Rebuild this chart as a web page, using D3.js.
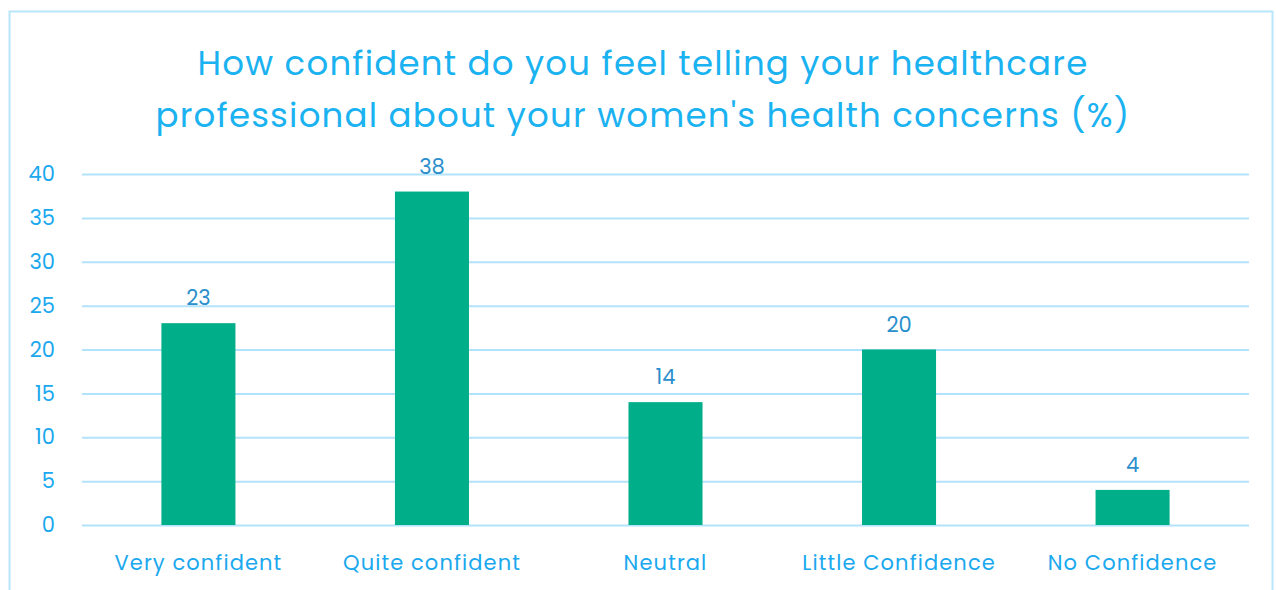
<!DOCTYPE html>
<html><head><meta charset="utf-8">
<script src="https://cdn.jsdelivr.net/npm/d3@7"></script>
<style>html,body{margin:0;padding:0;background:#fff;overflow:hidden}</style>
</head><body>
<script>
const categories = ["Very confident","Quite confident","Neutral","Little Confidence","No Confidence"];
const values = [23,38,14,20,4];
const yTicks = [0,5,10,15,20,25,30,35,40];
const titleLines = ["How confident do you feel telling your healthcare","professional about your women's health concerns (%)"];

(function(){
const W=1276,H=590;
const svg=d3.select("body").append("svg").attr("width",W).attr("height",H);
svg.append("rect").attr("x",9.5).attr("y",11.5).attr("width",1263).attr("height",590).attr("fill","#fff").attr("stroke","#b8e6fb").attr("stroke-width",2);

const font="Poppins, 'Open Sans', Lato, sans-serif";
const pL=82,pR=1249,pT=174,pB=525;
const x=d3.scaleBand().domain(categories).range([pL,pR]).paddingInner(0.683).paddingOuter(0.34);
const y=d3.scaleLinear().domain([0,40]).range([pB,pT]);

svg.selectAll("text.title").data(titleLines).join("text").attr("class","title")
  .attr("x",643).attr("y",(d,i)=>75+i*52).attr("text-anchor","middle")
  .attr("font-family",font).attr("font-size",34).attr("letter-spacing",1.2).attr("fill","#1ab2f0").text(d=>d);

const ya=svg.append("g").attr("transform",`translate(${pL},0)`)
  .call(d3.axisLeft(y).tickValues(yTicks).tickSize(-(pR-pL)).tickPadding(27));
ya.select(".domain").remove();
ya.selectAll(".tick line").attr("stroke","#b3e3fb").attr("stroke-width",2);
ya.selectAll(".tick text").attr("font-family",font).attr("font-size",21).attr("fill","#1aa8ee");

svg.selectAll("rect.bar").data(values).join("rect").attr("class","bar")
  .attr("x",(d,i)=>x(categories[i])).attr("width",x.bandwidth())
  .attr("y",d=>y(d)).attr("height",d=>y(0)-y(d)).attr("fill","#00ae8a");

svg.selectAll("text.val").data(values).join("text").attr("class","val")
  .attr("x",(d,i)=>x(categories[i])+x.bandwidth()/2).attr("y",d=>y(d)-18)
  .attr("text-anchor","middle").attr("font-family",font).attr("font-size",21).attr("fill","#2a8fcc").text(d=>d);

svg.selectAll("text.cat").data(categories).join("text").attr("class","cat")
  .attr("x",d=>x(d)+x.bandwidth()/2).attr("y",570)
  .attr("text-anchor","middle").attr("font-family",font).attr("font-size",21).attr("letter-spacing",1.1).attr("fill","#1aa8ee").text(d=>d);
})();
</script>
</body></html>
